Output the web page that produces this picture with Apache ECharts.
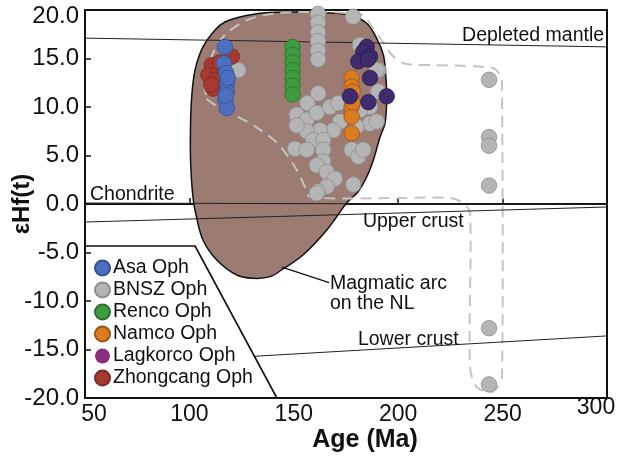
<!DOCTYPE html>
<html>
<head>
<meta charset="utf-8">
<script src="https://cdn.jsdelivr.net/npm/echarts@6/dist/echarts.min.js"></script>
<style>
  html, body { margin: 0; padding: 0; background: #fff; }
  #chart { width: 619px; height: 462px; }
</style>
</head>
<body>
<div id="chart"></div>
<script>
// ---- Zircon εHf(t) vs crystallisation age, Bangong–Nujiang ophiolites ----

// Axis ticks
const ageTicks = [50, 100, 150, 200, 250, 300];
const hfTicks = [-20, -15, -10, -5, 0, 5, 10, 15, 20];

// Sample groups: [age (Ma), εHf(t)]
const asaOph = [
  [117.0, 16.2], [116.5, 14.5], [117.6, 13.5], [118.0, 12.4], [117.9, 11.6],
  [117.2, 10.7], [117.9, 9.9], [118.4, 13.0], [117.5, 11.2]
];
const bnszOph = [
  [161.6, 19.6], [161.6, 18.7], [161.6, 17.7], [161.6, 16.8], [161.6, 15.8], [161.6, 14.9],
  [178.4, 19.3], [181.7, 16.4], [190.5, 13.8], [123.4, 13.8],
  [161.7, 11.4], [156.5, 10.4], [151.4, 9.2], [156.2, 8.7], [161.0, 9.4], [167.3, 10.0],
  [171.3, 10.4], [172.1, 8.5], [168.9, 7.6], [162.5, 7.6], [156.2, 7.5], [151.4, 8.1],
  [159.3, 6.6], [164.1, 6.6], [150.6, 5.7], [156.2, 5.6], [164.1, 5.6], [164.1, 4.4],
  [161.0, 4.0], [165.8, 3.3], [169.7, 2.6], [165.8, 1.8], [161.7, 1.3], [161.0, 1.1],
  [178.5, 2.0], [177.7, 5.6], [180.9, 4.9], [183.3, 5.6], [186.5, 8.3], [189.7, 8.5],
  [186.5, 10.0], [190.5, 11.6], [181.7, 9.7], [180.1, 8.0], [189.7, 13.8],
  [243.5, 12.8], [243.5, 6.9], [243.5, 6.0], [243.5, 1.9], [243.5, -12.8], [243.5, -18.6]
];
const rencoOph = [
  [149.4, 16.2], [149.4, 15.4], [149.4, 14.6], [149.4, 13.8],
  [149.4, 13.0], [149.4, 12.2], [149.4, 11.3]
];
const namcoOph = [
  [177.7, 13.0], [177.7, 12.1], [177.7, 11.1], [177.7, 10.0],
  [177.7, 9.0], [177.7, 7.3], [178.2, 11.6], [178.2, 10.5]
];
const lagkorcoOph = [
  [184.9, 16.2], [183.3, 15.7], [186.5, 15.2], [180.9, 14.7], [185.5, 14.9],
  [186.5, 13.0], [176.9, 11.1], [185.7, 10.5], [194.5, 11.1]
];
const zhongcangOph = [
  [120.3, 15.2], [110.7, 14.3], [109.1, 13.3], [113.8, 13.6], [112.3, 12.8],
  [111.4, 11.9], [114.5, 14.6], [110.5, 12.3]
];

// Magmatic arc on the NL (outline, clockwise)
const arcAge = [112.3, 117.0, 124.2, 135.2, 153.0, 167.3, 176.9, 184.9, 189.7, 192.9, 193.9,
  194.5, 193.7, 191.3, 188.1, 184.9, 180.7, 175.3, 165.8, 154.4, 144.8, 138.6, 130.5,
  122.7, 113.1, 106.5, 103.2, 101.7, 100.6, 100.5, 101.1, 102.7, 106.5];
const arcHf = [17.94, 18.76, 19.28, 19.69, 19.79, 19.69, 19.48, 18.63, 17.08, 15.36, 13.64,
  11.06, 8.35, 6.91, 4.54, 2.78, 1.24, 0.10, -2.68, -5.26, -6.70, -7.49, -7.66,
  -7.32, -5.77, -3.71, -1.13, 0.72, 4.23, 7.63, 11.03, 13.81, 16.19];

// Dashed envelope of the BNSZ data
const envAge = [107.9, 107.5, 109.9, 116.1, 127.6, 143.4, 162.5, 175.5, 183.1, 187.9, 192.7,
  197.0, 202.3, 209.0, 216.7, 245.4, 248.8, 249.7, 249.7, 247.3, 244.0, 237.7, 234.4,
  234.4, 231.0, 224.8, 200.9, 157.8, 155.4, 150.6, 142.0, 130.5, 124.2, 114.7, 108.9];
const envHf = [11.24, 12.78, 14.85, 17.22, 18.97, 19.69, 19.79, 19.69, 19.48, 18.14, 16.70,
  15.36, 14.54, 14.33, 14.33, 14.02, 13.30, 12.78, -17.84, -18.97, -19.38, -18.87, -16.80,
  -0.93, 0.10, 0.62, 0.62, 0.72, 1.75, 3.81, 6.29, 8.14, 8.87, 9.90, 10.72];

// Reference evolution lines
const depletedMantle = [[50, 17.1], [300, 16.2]];
const chondrite = [[50, 0.1], [300, -0.05]];
const upperCrust = [[50, -1.86], [300, -0.31]];
const lowerCrust = [[131, -15.7], [300, -13.6]];
// Frame around the legend
const legendFrame = [[50, -4.33], [102.7, -4.33], [141.9, -20]];
// Leader from the arc to its label
const arcLeader = [[144.3, -6.5], [166.9, -8.1]];

// Annotation texts: [age, εHf, text, alignment]
const notes = [
  [298.6, 17.4, 'Depleted mantle', 'right'],
  [52.4, 0.93, 'Chondrite', 'left'],
  [183.1, -1.86, 'Upper crust', 'left'],
  [167.3, -9.25, 'Magmatic arc\non the NL', 'left'],
  [180.7, -14.0, 'Lower crust', 'left']
];

const FONT = '"Liberation Sans", Arial, Helvetica, sans-serif';

const chart = echarts.init(document.getElementById('chart'), null, { renderer: 'canvas' });

function lineSeries(data, width, color) {
  return {
    type: 'line', data: data, symbol: 'none', silent: true, z: 3,
    lineStyle: { color: color, width: width }, animation: false
  };
}

function scatterSeries(name, data, color, border, z) {
  return {
    name: name, type: 'scatter', data: data, symbol: 'circle', symbolSize: 15.5, z: z,
    itemStyle: { color: color, borderColor: border, borderWidth: 0.8, opacity: 1 },
    emphasis: { disabled: true }, animation: false
  };
}

const option = {
  backgroundColor: '#fff',
  animation: false,
  grid: {
    left: 85, right: 12, top: 10, bottom: 64,
    containLabel: false, outerBoundsMode: 'none',
    show: true, borderColor: '#111', borderWidth: 2, backgroundColor: 'transparent'
  },
  xAxis: {
    type: 'value', min: ageTicks[0], max: ageTicks[ageTicks.length - 1], interval: 50,
    name: 'Age (Ma)', nameLocation: 'middle', nameGap: 30, nameMoveOverlap: false,
    nameTextStyle: { fontFamily: FONT, fontSize: 25, fontWeight: 'bold', color: '#111', padding: [0, 0, 0, 38] },
    axisLine: { show: true, lineStyle: { color: '#111', width: 2 } },
    axisTick: { show: true, inside: true, length: 6, lineStyle: { color: '#111', width: 1.5 } },
    splitLine: { show: false },
    axisLabel: {
      fontFamily: FONT, fontSize: 23, color: '#111', margin: 17, verticalAlign: 'middle',
      formatter: function (v) {
        if (v === 50) return '{lo|50}';
        if (v === 300) return '{hi|300}';
        return String(v);
      },
      rich: {
        lo: { fontFamily: FONT, fontSize: 23, color: '#111', padding: [0, 0, 0, 18] },
        hi: { fontFamily: FONT, fontSize: 23, color: '#111', padding: [0, 22, 14, 0] }
      }
    }
  },
  yAxis: {
    type: 'value', min: hfTicks[0], max: hfTicks[hfTicks.length - 1], interval: 5,
    name: 'εHf(t)', nameLocation: 'middle', nameGap: 51, nameRotate: 90, nameMoveOverlap: false,
    nameTextStyle: { fontFamily: FONT, fontSize: 24, fontWeight: 'bold', color: '#111' },
    axisLine: { show: true, lineStyle: { color: '#111', width: 2 } },
    axisTick: { show: true, inside: true, length: 6, lineStyle: { color: '#111', width: 1.5 } },
    splitLine: { show: false },
    axisLabel: {
      fontFamily: FONT, fontSize: 24, color: '#111', margin: 6,
      formatter: function (v) {
        const s = v.toFixed(1);
        return v === 20 ? '{top|' + s + '}' : s;
      },
      rich: { top: { fontFamily: FONT, fontSize: 24, color: '#111', padding: [12, 0, 0, 0] } }
    }
  },
  legend: {
    orient: 'vertical', left: 94, top: 257, padding: 0,
    itemWidth: 15, itemHeight: 15, itemGap: 0, selectedMode: false, icon: 'circle',
    textStyle: { fontFamily: FONT, fontSize: 19.5, color: '#111', lineHeight: 22, padding: [0, 0, 0, -2] },
    data: [
      { name: 'Asa Oph' },
      { name: 'BNSZ Oph' },
      { name: 'Renco Oph' },
      { name: 'Namco Oph' },
      { name: 'Lagkorco Oph', itemStyle: { color: '#8a2f80', borderWidth: 0 } },
      { name: 'Zhongcang Oph' }
    ]
  },
  series: [
    {
      type: 'custom', silent: true, z: 1, data: [[150, 0]],
      renderItem: function (params, api) {
        const pts = arcAge.map(function (a, i) { return api.coord([a, arcHf[i]]); });
        return {
          type: 'polygon',
          shape: { points: pts, smooth: 0.35 },
          style: { fill: '#9c7b73', stroke: '#111', lineWidth: 1.5 }
        };
      }
    },
    {
      type: 'custom', silent: true, z: 2, data: [[150, 0]],
      renderItem: function (params, api) {
        const pts = envAge.map(function (a, i) { return api.coord([a, envHf[i]]); });
        return {
          type: 'polygon',
          shape: { points: pts, smooth: 0.3 },
          style: { fill: 'none', stroke: '#c4c4c4', lineWidth: 2, lineDash: [11, 7] }
        };
      }
    },
    lineSeries(depletedMantle, 1, '#222'),
    lineSeries(chondrite, 1, '#222'),
    lineSeries(upperCrust, 1, '#222'),
    lineSeries(lowerCrust, 1, '#222'),
    lineSeries(legendFrame, 1.6, '#111'),
    lineSeries(arcLeader, 1.3, '#111'),
    {
      type: 'custom', silent: true, z: 6,
      data: notes.map(function (n) { return [n[0], n[1]]; }),
      renderItem: function (params, api) {
        const n = notes[params.dataIndex];
        const p = api.coord([n[0], n[1]]);
        return {
          type: 'text', x: p[0], y: p[1],
          style: {
            text: n[2], fill: '#111', fontFamily: FONT, fontSize: 19.5,
            align: n[3], verticalAlign: 'middle', lineHeight: 20
          }
        };
      }
    },
    scatterSeries('BNSZ Oph', bnszOph, '#b5b5b5', '#8e8e8e', 4),
    scatterSeries('Zhongcang Oph', zhongcangOph, '#a63a2f', '#7a2a22', 4),
    scatterSeries('Asa Oph', asaOph, '#4c6fc2', '#34508f', 4),
    scatterSeries('Renco Oph', rencoOph, '#3e9b3f', '#2b6e2c', 4),
    scatterSeries('Namco Oph', namcoOph, '#db7c22', '#9c5614', 4),
    scatterSeries('Lagkorco Oph', lagkorcoOph, '#3f2b6d', '#2a1c4a', 4)
  ]
};

chart.setOption(option);
</script>
</body>
</html>
